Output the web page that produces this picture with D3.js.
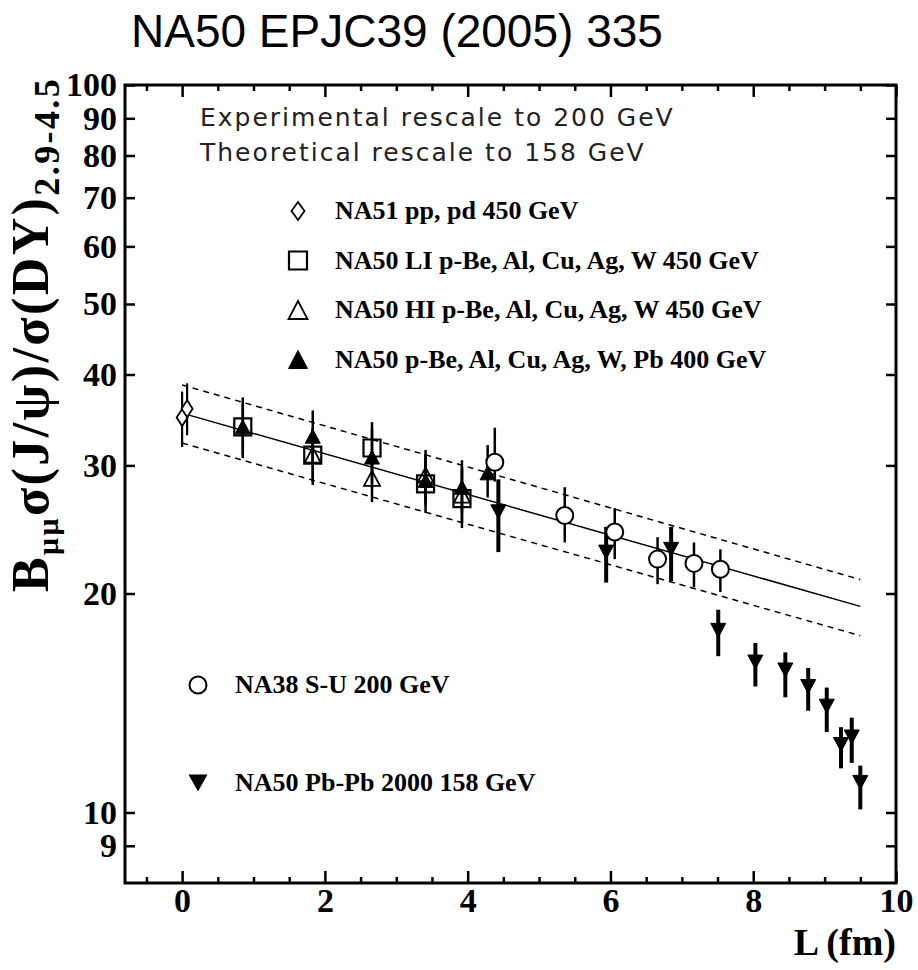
<!DOCTYPE html>
<html>
<head>
<meta charset="utf-8">
<script src="https://cdn.jsdelivr.net/npm/d3@7"></script>
<style>
  body { margin: 0; background: #fff; }
</style>
</head>
<body>
<svg id="chart" width="918" height="970"></svg>
<script>
// ---- data ----
// NA51 pp, pd 450 GeV (open diamonds)
var na51L  = [0.00, 0.07];
var na51Y  = [34.9, 35.9];
var na51Lo = [31.8, 33.0];
var na51Hi = [37.9, 38.9];

// NA50 LI p-A 450 GeV (open squares)
var liL  = [0.85, 1.83, 2.66, 3.41, 3.92];
var liY  = [33.9, 31.0, 31.7, 28.3, 27.0];
var liLo = [30.7, 28.2, 29.0, 25.8, 24.6];
var liHi = [36.5, 33.8, 34.4, 30.8, 29.6];

// NA50 HI p-A 450 GeV (open triangles)
var hiL  = [1.83, 2.66, 3.41, 3.92];
var hiY  = [31.0, 28.8, 29.1, 27.3];
var hiLo = [28.5, 26.7, 26.8, 25.0];
var hiHi = [33.6, 31.2, 31.5, 29.8];

// NA50 p-A 400 GeV (filled triangles)
var p400L  = [0.85, 1.83, 2.66, 3.41, 3.92, 4.28];
var p400Y  = [33.9, 32.9, 30.8, 28.6, 28.0, 29.3];
var p400Lo = [31.0, 30.2, 28.3, 26.4, 25.8, 27.1];
var p400Hi = [37.2, 35.7, 33.6, 31.1, 30.5, 32.0];

// NA38 S-U 200 GeV (open circles)
var suL  = [4.38, 5.36, 6.06, 6.66, 7.17, 7.54];
var suY  = [30.3, 25.6, 24.3, 22.3, 22.0, 21.6];
var suLo = [28.5, 23.5, 22.3, 20.6, 20.4, 20.1];
var suHi = [33.8, 28.0, 26.2, 23.9, 23.5, 23.0];

// NA50 Pb-Pb 2000 158 GeV (filled down triangles)
var pbL  = [4.43, 5.94, 6.85, 7.51, 8.03, 8.45, 8.77, 9.03, 9.23, 9.38, 9.50];
var pbY  = [25.9, 22.8, 23.0, 17.8, 16.1, 15.7, 14.9, 14.0, 12.4, 12.7, 11.0];
var pbLo = [22.8, 20.7, 20.8, 16.4, 14.9, 14.4, 13.8, 12.9, 11.5, 11.7, 10.1];
var pbHi = [28.7, 24.7, 24.7, 19.0, 17.1, 16.6, 15.8, 14.85, 13.1, 13.5, 11.6];

// absorption fit (straight on log scale) and its band
var fitL   = [0, 9.5];
var fitMid = [35.4, 19.2];
var fitUp  = [38.7, 20.9];
var fitDn  = [32.2, 17.5];

var xMajor = [0, 2, 4, 6, 8, 10];
var xMinor = [-0.5, 0.5, 1, 1.5, 2.5, 3, 3.5, 4.5, 5, 5.5, 6.5, 7, 7.5, 8.5, 9, 9.5];
var yTicks = [9, 10, 20, 30, 40, 50, 60, 70, 80, 90, 100];

var legendTop = ["NA51 pp, pd 450 GeV",
                 "NA50 LI p-Be, Al, Cu, Ag, W 450 GeV",
                 "NA50 HI p-Be, Al, Cu, Ag, W 450 GeV",
                 "NA50 p-Be, Al, Cu, Ag, W, Pb 400 GeV"];
var legendBottom = ["NA38 S-U 200 GeV", "NA50 Pb-Pb 2000 158 GeV"];

// ---- layout ----
var pLeft = 125, pRight = 896, pTop = 85, pBottom = 883;
var serif = "'Liberation Serif', 'Times New Roman', serif";

var svg = d3.select("#chart");
svg.append("rect").attr("width", 918).attr("height", 970).attr("fill", "#fff");

var x = d3.scaleLinear().domain([-0.8, 10]).range([pLeft, pRight]);
var y = d3.scaleLog().domain([8, 100]).range([pBottom, pTop]);

function zip(L, Y, Lo, Hi) {
    return L.map(function(l, i) { return {l: l, v: Y[i], lo: Lo[i], hi: Hi[i]}; });
}
var na51 = zip(na51L, na51Y, na51Lo, na51Hi);
var li = zip(liL, liY, liLo, liHi);
var hi = zip(hiL, hiY, hiLo, hiHi);
var p400 = zip(p400L, p400Y, p400Lo, p400Hi);
var su = zip(suL, suY, suLo, suHi);
var pb = zip(pbL, pbY, pbLo, pbHi);

// title
svg.append("text").attr("x", 131).attr("y", 47)
    .attr("font-family", "'Liberation Sans', Arial, sans-serif")
    .attr("font-size", 46).text("NA50 EPJC39 (2005) 335");

// axes
function styleAxis(g, fontSize) {
    g.select(".domain").remove();
    g.selectAll(".tick line").attr("stroke", "#000").attr("stroke-width", 2.5);
    g.selectAll("text").attr("font-family", serif).attr("font-weight", "bold")
        .attr("font-size", fontSize).attr("fill", "#000");
}

svg.append("g").attr("transform", "translate(0," + pBottom + ")")
    .call(d3.axisBottom(x).tickValues(xMinor).tickSize(-6).tickFormat(""))
    .call(styleAxis, 34);
svg.append("g").attr("transform", "translate(0," + pBottom + ")")
    .call(d3.axisBottom(x).tickValues(xMajor).tickSize(-12).tickPadding(5).tickFormat(d3.format("d")))
    .call(styleAxis, 34);
svg.append("g").attr("transform", "translate(0," + pTop + ")")
    .call(d3.axisTop(x).tickValues(xMinor).tickSize(-6).tickFormat(""))
    .call(styleAxis, 34);
svg.append("g").attr("transform", "translate(0," + pTop + ")")
    .call(d3.axisTop(x).tickValues(xMajor).tickSize(-12).tickFormat(""))
    .call(styleAxis, 34);
svg.append("g").attr("transform", "translate(" + pLeft + ",0)")
    .call(d3.axisLeft(y).tickValues(yTicks).tickSize(-10).tickPadding(8).tickFormat(d3.format("d")))
    .call(styleAxis, 34);
svg.append("g").attr("transform", "translate(" + pRight + ",0)")
    .call(d3.axisRight(y).tickValues(yTicks).tickSize(-10).tickFormat(""))
    .call(styleAxis, 34);

// frame
svg.append("rect").attr("x", pLeft).attr("y", pTop)
    .attr("width", pRight - pLeft).attr("height", pBottom - pTop)
    .attr("fill", "none").attr("stroke", "#000").attr("stroke-width", 3);

// axis titles
svg.append("text").attr("x", pRight).attr("y", 955).attr("text-anchor", "end")
    .attr("font-family", serif).attr("font-weight", "bold").attr("font-size", 38)
    .text("L (fm)");

var ylab = svg.append("text").attr("transform", "translate(48,592) rotate(-90)")
    .attr("font-family", serif).attr("font-weight", "bold").attr("font-size", 52)
    .attr("letter-spacing", 2.4);
ylab.append("tspan").text("B");
ylab.append("tspan").attr("font-size", 30).attr("dy", 10).text("μμ");
ylab.append("tspan").attr("dy", -10).text("σ(J/ψ)/σ(DY)");
ylab.append("tspan").attr("font-size", 36).attr("dy", 11).text("2.9-4.5");

// note
var note = svg.append("g").attr("font-family", "'DejaVu Sans', sans-serif")
    .attr("font-size", 25).attr("letter-spacing", 2).attr("fill", "#222");
note.append("text").attr("x", 200).attr("y", 126).text("Experimental rescale to 200 GeV");
note.append("text").attr("x", 200).attr("y", 161).text("Theoretical rescale to 158 GeV");

// fit lines
var line = d3.line().x(function(d) { return x(d[0]); }).y(function(d) { return y(d[1]); });
svg.append("path").datum(d3.zip(fitL, fitUp)).attr("d", line)
    .attr("fill", "none").attr("stroke", "#000").attr("stroke-width", 1.5).attr("stroke-dasharray", "6,5");
svg.append("path").datum(d3.zip(fitL, fitDn)).attr("d", line)
    .attr("fill", "none").attr("stroke", "#000").attr("stroke-width", 1.5).attr("stroke-dasharray", "6,5");
svg.append("path").datum(d3.zip(fitL, fitMid)).attr("d", line)
    .attr("fill", "none").attr("stroke", "#000").attr("stroke-width", 1.5);

// marker shapes
function squarePath(s) { return "M" + (-s/2) + "," + (-s/2) + "h" + s + "v" + s + "h" + (-s) + "Z"; }
function triUp(w, h) { return "M0," + (-h/2) + "L" + (w/2) + "," + (h/2) + "L" + (-w/2) + "," + (h/2) + "Z"; }
function triDown(w, h) { return "M0," + (h/2) + "L" + (w/2) + "," + (-h/2) + "L" + (-w/2) + "," + (-h/2) + "Z"; }
function diamondPath(w, h) { return "M0," + (-h/2) + "L" + (w/2) + ",0L0," + (h/2) + "L" + (-w/2) + ",0Z"; }

function errBars(data, width) {
    svg.append("g").selectAll("line").data(data).enter().append("line")
        .attr("x1", function(d) { return x(d.l); }).attr("x2", function(d) { return x(d.l); })
        .attr("y1", function(d) { return y(d.lo); }).attr("y2", function(d) { return y(d.hi); })
        .attr("stroke", "#000").attr("stroke-width", width);
}
function markers(data, pathStr, fill, sw) {
    svg.append("g").selectAll("path").data(data).enter().append("path")
        .attr("transform", function(d) { return "translate(" + x(d.l) + "," + y(d.v) + ")"; })
        .attr("d", pathStr).attr("fill", fill).attr("stroke", "#000").attr("stroke-width", sw);
}

errBars(na51, 2.2);
errBars(li, 2.5);
errBars(hi, 2.5);
errBars(p400, 2.5);
errBars(su, 2.5);
errBars(pb, 4);

markers(li, squarePath(17), "none", 2.2);
markers(hi, triUp(16, 15), "none", 1.8);
markers(p400, triUp(15, 14), "#000", 1);
markers(na51, diamondPath(11, 17), "#fff", 1.8);
markers(pb, triDown(15, 14), "#000", 1);
svg.append("g").selectAll("circle").data(su).enter().append("circle")
    .attr("cx", function(d) { return x(d.l); }).attr("cy", function(d) { return y(d.v); })
    .attr("r", 8.5).attr("fill", "#fff").attr("stroke", "#000").attr("stroke-width", 2);

// legends
var legTopShapes = [
    {d: diamondPath(13, 18), fill: "#fff", sw: 1.8},
    {d: squarePath(18), fill: "#fff", sw: 2.2},
    {d: triUp(19, 18), fill: "#fff", sw: 1.8},
    {d: triUp(19, 18), fill: "#000", sw: 1}
];
legendTop.forEach(function(t, i) {
    var yy = 211 + i * 49.5;
    svg.append("path").attr("transform", "translate(298," + yy + ")")
        .attr("d", legTopShapes[i].d).attr("fill", legTopShapes[i].fill)
        .attr("stroke", "#000").attr("stroke-width", legTopShapes[i].sw);
    svg.append("text").attr("x", 335).attr("y", yy + 8)
        .attr("font-family", serif).attr("font-weight", "bold").attr("font-size", 26).text(t);
});
legendBottom.forEach(function(t, i) {
    var yy = 685 + i * 98;
    if (i == 0) {
        svg.append("circle").attr("cx", 198).attr("cy", yy).attr("r", 8.5)
            .attr("fill", "#fff").attr("stroke", "#000").attr("stroke-width", 2);
    } else {
        svg.append("path").attr("transform", "translate(198," + yy + ")")
            .attr("d", triDown(19, 17)).attr("fill", "#000");
    }
    svg.append("text").attr("x", 235).attr("y", yy + 8)
        .attr("font-family", serif).attr("font-weight", "bold").attr("font-size", 26).text(t);
});
</script>
</body>
</html>
